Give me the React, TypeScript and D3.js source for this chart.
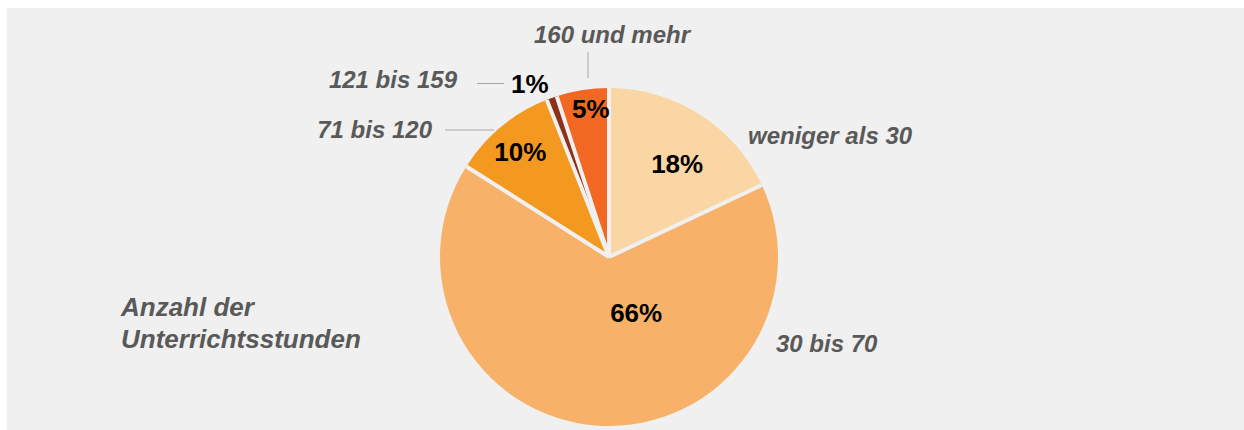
import React from "react";
import * as d3 from "d3";

// Anteil der Kurse nach Anzahl der Unterrichtsstunden
const categories = ["weniger als 30", "30 bis 70", "71 bis 120", "121 bis 159", "160 und mehr"];
const shares = [18, 66, 10, 1, 5];
const sliceColors = ["#fad6a5", "#f8b169", "#f4991f", "#8b3218", "#f26722"];
const titleLines = ["Anzahl der", "Unterrichtsstunden"];

const W = 1244;
const H = 430;
const cx = 609;
const cy = 257;
const radius = 169;
const bg = "#eff0ef";
const grey = "#595959";
const font = "'Liberation Sans', Arial, sans-serif";

// where the percent labels sit (degrees clockwise from 12 o'clock, distance from centre)
const pctPos = [
  { a: 36, r: 116 },
  { a: 154, r: 62 },
  { a: 320, r: 138 },
  { a: 335.5, r: 191 },
  { a: 353, r: 149 },
];

// category labels, offsets from pie centre
const catPos = [
  { x: 139, y: -113, anchor: "start" },
  { x: 167, y: 95, anchor: "start" },
  { x: -177, y: -119, anchor: "end" },
  { x: -152, y: -169, anchor: "end" },
  { x: 3, y: -214, anchor: "middle" },
];

// leader lines [x1, y1, x2, y2] from centre
const leaders: (number[] | null)[] = [
  null,
  null,
  [-115, -127, -164, -127],
  [-105, -173.5, -132, -173.5],
  [-21, -179, -21, -205],
];

export default function App() {
  const pie = d3.pie<number>().value((d) => d).sort(null);
  const arcs = pie(shares);
  const arcGen = d3.arc<d3.PieArcDatum<number>>().innerRadius(0).outerRadius(radius);

  const polar = (deg: number, r: number) => {
    const t = (deg * Math.PI) / 180;
    return [Math.sin(t) * r, -Math.cos(t) * r];
  };

  return (
    <svg
      width={W}
      height={H}
      style={{ position: "absolute", left: 0, top: 0 }}
      fontFamily={font}
    >
      <rect x={7} y={8} width={W - 7} height={H - 8} fill={bg} />
      <g transform={`translate(${cx},${cy})`}>
        {arcs.map((d, i) => (
          <path key={"s" + i} d={arcGen(d) || ""} fill={sliceColors[i]} />
        ))}
        {arcs.map((d, i) => {
          const [x, y] = polar((d.startAngle * 180) / Math.PI, radius);
          return (
            <line key={"g" + i} x1={0} y1={0} x2={x} y2={y} stroke={bg} strokeWidth={4} />
          );
        })}
        {leaders.map((l, i) =>
          l ? (
            <line key={"l" + i} x1={l[0]} y1={l[1]} x2={l[2]} y2={l[3]} stroke="#a6a6a6" strokeWidth={1} />
          ) : null
        )}
        {arcs.map((d, i) => {
          const [x, y] = polar(pctPos[i].a, pctPos[i].r);
          return (
            <text
              key={"p" + i}
              x={x}
              y={y}
              dy="0.36em"
              textAnchor="middle"
              fontSize={26}
              fontWeight="bold"
              fill="#000"
            >
              {d3.format(".0f")(d.data) + "%"}
            </text>
          );
        })}
        {categories.map((c, i) => (
          <text
            key={"c" + i}
            x={catPos[i].x}
            y={catPos[i].y}
            textAnchor={catPos[i].anchor}
            fontSize={24}
            fontWeight="bold"
            fontStyle="italic"
            fill={grey}
          >
            {c}
          </text>
        ))}
      </g>
      {titleLines.map((t, i) => (
        <text
          key={"t" + i}
          x={121}
          y={316 + i * 32}
          fontSize={26}
          fontWeight="bold"
          fontStyle="italic"
          fill={grey}
        >
          {t}
        </text>
      ))}
    </svg>
  );
}
